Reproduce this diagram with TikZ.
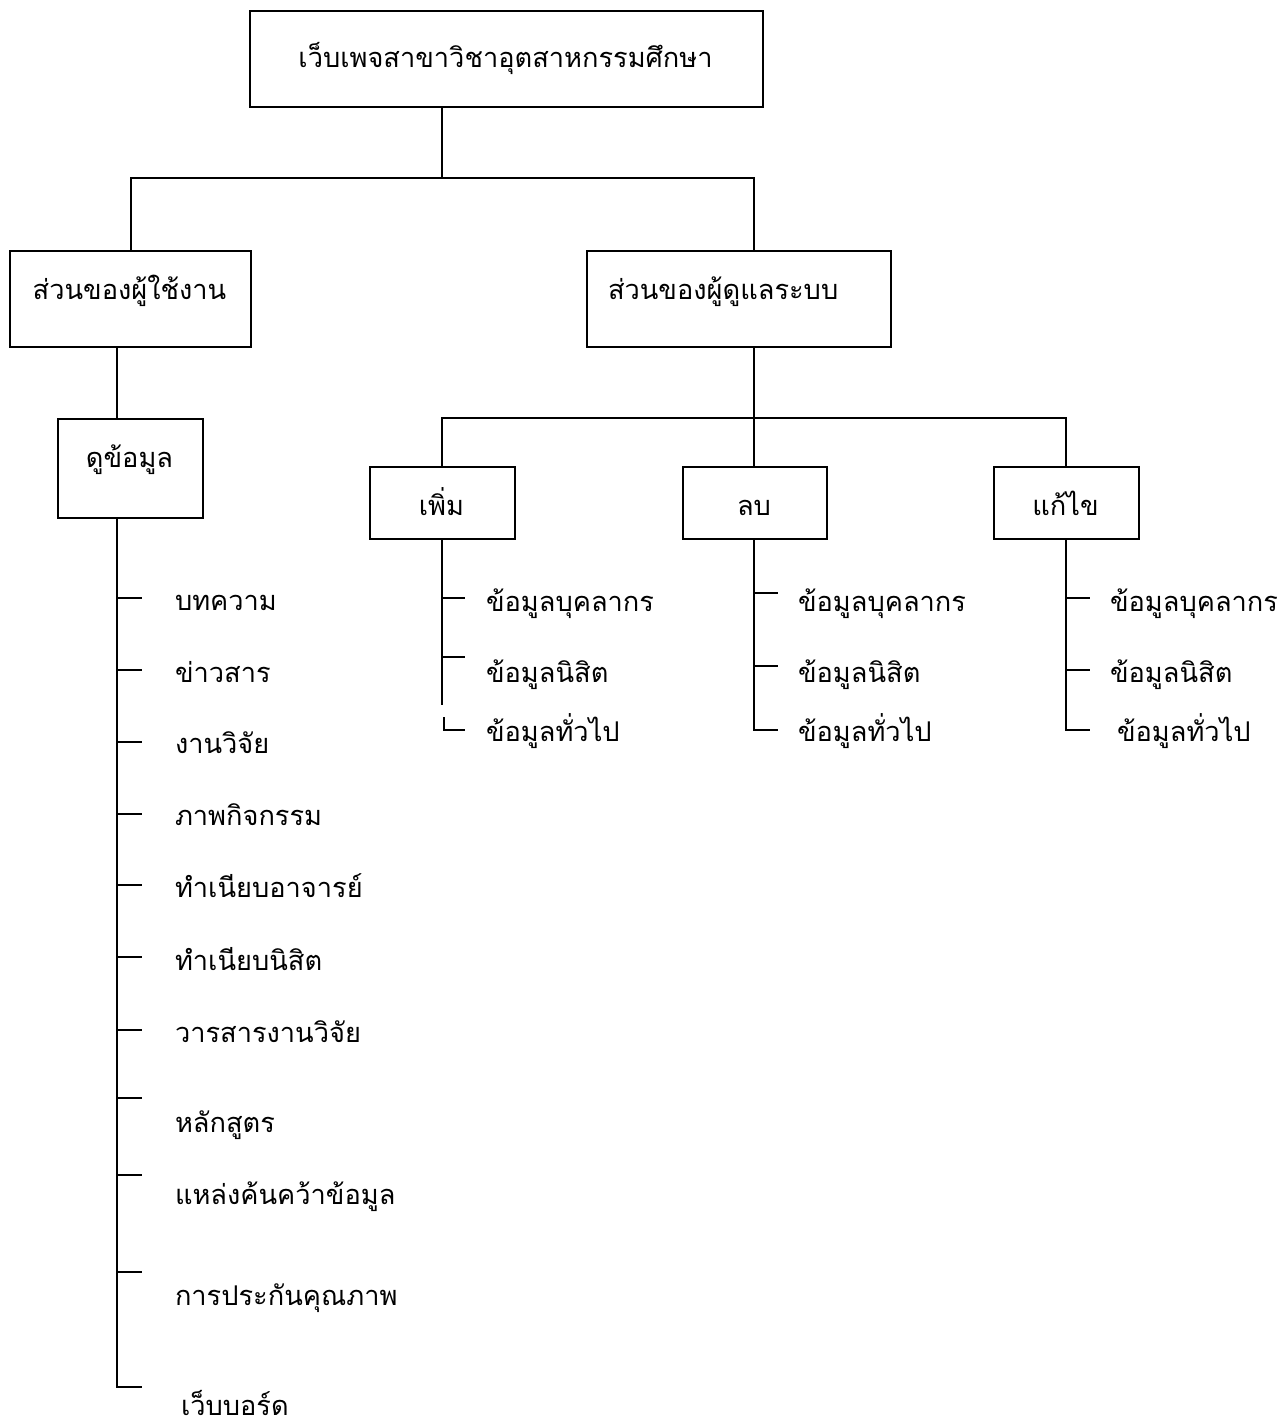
\documentclass[tikz,border=0pt]{standalone}
\usepackage{fontspec}
\newfontfamily\thaifont[Script=Thai]{Loma}
\begin{document}
\begin{tikzpicture}[x=1pt,y=-1pt,line width=2pt,
  box/.style={draw,line width=2pt,inner sep=0pt,anchor=north west},
  lbl/.style={inner sep=0pt,font=\thaifont\fontsize{27.2}{32}\selectfont},
  conn/.style={draw,line width=2pt}]
\useasboundingbox[fill=white] (0,0) rectangle (1286,1427);
% boxes
\node[box,minimum width=513pt,minimum height=96pt] (top) at (249,10) {};
\node[box,minimum width=241pt,minimum height=96pt] (user) at (9,250) {};
\node[box,minimum width=304pt,minimum height=96pt] (admin) at (586,250) {};
\node[box,minimum width=145pt,minimum height=99pt] (view) at (57,418) {};
\node[box,minimum width=145pt,minimum height=72pt] (add) at (369,466) {};
\node[box,minimum width=144pt,minimum height=72pt] (del) at (682,466) {};
\node[box,minimum width=145pt,minimum height=72pt] (edit) at (993,466) {};
% box texts
\node[lbl,anchor=base] (topt) at (505.5,67) {เว็บเพจสาขาวิชาอุตสาหกรรมศึกษา};
\node[lbl,anchor=base] (usert) at (129.5,299) {ส่วนของผู้ใช้งาน};
\node[lbl,anchor=base west] (admint) at (607,299) {ส่วนของผู้ดูแลระบบ};
\node[lbl,anchor=base] (viewt) at (129.5,467) {ดูข้อมูล};
\node[lbl,anchor=base] (addt) at (441.5,515) {เพิ่ม};
\node[lbl,anchor=base] (delt) at (754,515) {ลบ};
\node[lbl,anchor=base] (editt) at (1065.5,515) {แก้ไข};
% junction coordinates
\coordinate (j0) at (442,178);
\coordinate (jA) at (754,178);
\coordinate (uv) at (116.5,0);
\coordinate (h1) at (442,418);
\coordinate (h2) at (754,418);
\coordinate (h3) at (1066,418);
% top level connectors
\draw[conn] (top.south -| j0) -- (j0);
\draw[conn] (user.north) |- (jA) -- (admin.north -| jA);
\draw[conn] (user.south -| uv) -- (view.north -| uv);
\draw[conn] (admin.south -| jA) -- (h2) -- (del.north -| h2);
\draw[conn] (add.north -| h1) -- (h1) -- (h3) -- (edit.north -| h3);
% left list
\foreach \i/\ty in {1/598,2/670,3/742,4/814,5/885,6/957,7/1030,8/1098,9/1175,10/1272,11/1387}{
  \coordinate (L\i) at (116.5,\ty);
}
\draw[conn] (view.south -| uv) -- (L11) -- ++(25,0);
\foreach \i in {1,...,10}{ \draw[conn] (L\i) -- ++(25,0); }
\node[lbl,anchor=base west] (v1) at (174,610) {บทความ};
\node[lbl,anchor=base west] (v2) at (174,682) {ข่าวสาร};
\node[lbl,anchor=base west] (v3) at (174,753) {งานวิจัย};
\node[lbl,anchor=base west] (v4) at (174,825) {ภาพกิจกรรม};
\node[lbl,anchor=base west] (v5) at (174,897) {ทำเนียบอาจารย์};
\node[lbl,anchor=base west] (v6) at (174,970) {ทำเนียบนิสิต};
\node[lbl,anchor=base west] (v7) at (174,1042) {วารสารงานวิจัย};
\node[lbl,anchor=base west] (v8) at (174,1132) {หลักสูตร};
\node[lbl,anchor=base west] (v9) at (174,1204) {แหล่งค้นคว้าข้อมูล};
\node[lbl,anchor=base west] (v10) at (174,1305) {การประกันคุณภาพ};
\node[lbl,anchor=base west] (v11) at (180,1415) {เว็บบอร์ด};
% add group
\coordinate (a1) at (442,598); \coordinate (a2) at (442,657); \coordinate (a3) at (443.5,730);
\coordinate (abreak) at (442,705); \coordinate (aresume) at (443.5,717);
\draw[conn] (add.south -| h1) -- (abreak);
\draw[conn] (aresume) -- (a3) -- ++(21.5,0);
\draw[conn] (a1) -- ++(23,0);
\draw[conn] (a2) -- ++(23,0);
\node[lbl,anchor=base west] (a1t) at (485,611) {ข้อมูลบุคลากร};
\node[lbl,anchor=base west] (a2t) at (485,682) {ข้อมูลนิสิต};
\node[lbl,anchor=base west] (a3t) at (485,741) {ข้อมูลทั่วไป};
% del group
\coordinate (d1) at (754,593); \coordinate (d2) at (754,666); \coordinate (d3) at (754,730);
\draw[conn] (del.south -| h2) -- (d3) -- ++(24,0);
\draw[conn] (d1) -- ++(24,0);
\draw[conn] (d2) -- ++(24,0);
\node[lbl,anchor=base west] (d1t) at (797,611) {ข้อมูลบุคลากร};
\node[lbl,anchor=base west] (d2t) at (797,682) {ข้อมูลนิสิต};
\node[lbl,anchor=base west] (d3t) at (797,741) {ข้อมูลทั่วไป};
% edit group
\coordinate (e1) at (1066,598); \coordinate (e2) at (1066,670); \coordinate (e3) at (1066,730);
\draw[conn] (edit.south -| h3) -- (e3) -- ++(24,0);
\draw[conn] (e1) -- ++(24,0);
\draw[conn] (e2) -- ++(24,0);
\node[lbl,anchor=base west] (e1t) at (1109,611) {ข้อมูลบุคลากร};
\node[lbl,anchor=base west] (e2t) at (1109,682) {ข้อมูลนิสิต};
\node[lbl,anchor=base west] (e3t) at (1116,741) {ข้อมูลทั่วไป};
\end{tikzpicture}
\end{document}
